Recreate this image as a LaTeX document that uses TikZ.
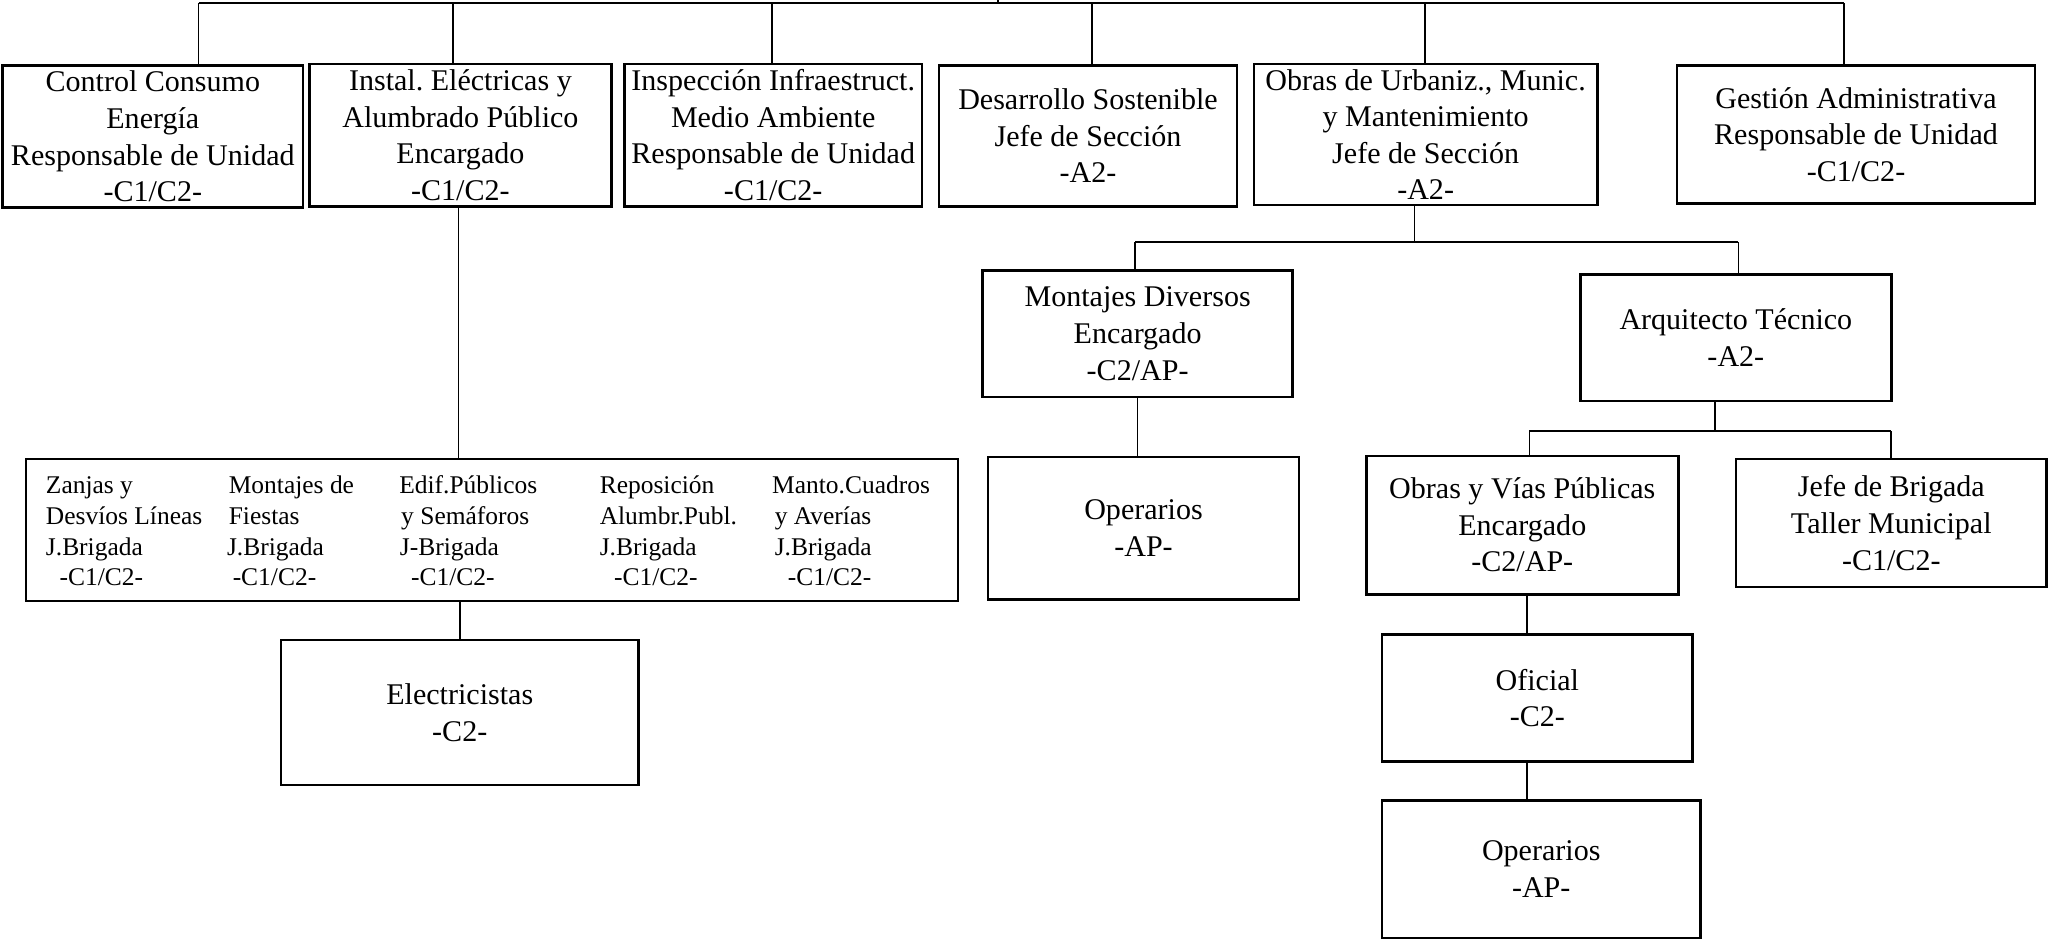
\documentclass[tikz,border=0pt]{standalone}
\usepackage{fontspec}
\setmainfont{Liberation Serif}
\frenchspacing
\begin{document}
\frenchspacing
\begin{tikzpicture}[x=1pt,y=-1pt,
  box/.style={draw, line width=2pt, rectangle, inner sep=0pt, align=center,
    font=\fontsize{23}{28}\selectfont\frenchspacing},
  conn/.style={line width=1.3pt},
  cell/.style={anchor=base west, inner sep=0pt, font=\fontsize{19.5}{23.3}\selectfont\frenchspacing}]
\useasboundingbox (0,0) rectangle (1568,720);

% top level
\node[box, minimum width=230pt, minimum height=109pt] (t1) at (117,104.5)
  {Control Consumo\\Energía\\Responsable de Unidad\\-C1/C2-};
\node[box, minimum width=231pt, minimum height=109pt] (t2) at (352.5,103.5)
  {Instal. Eléctricas y\\Alumbrado Público\\Encargado\\-C1/C2-};
\node[box, minimum width=228pt, minimum height=109pt] (t3) at (592,103.5)
  {Inspección Infraestruct.\\Medio Ambiente\\Responsable de Unidad\\-C1/C2-};
\node[box, minimum width=228pt, minimum height=108pt] (t4) at (833,104)
  {Desarrollo Sostenible\\Jefe de Sección\\-A2-};
\node[box, minimum width=263pt, minimum height=108pt] (t5) at (1091.5,103)
  {Obras de Urbaniz., Munic.\\y Mantenimiento\\Jefe de Sección\\-A2-};
\node[box, minimum width=274pt, minimum height=106pt] (t6) at (1421,103)
  {Gestión Administrativa\\Responsable de Unidad\\-C1/C2-};

% second level
\node[box, minimum width=237.5pt, minimum height=97pt] (md) at (871,255.5)
  {Montajes Diversos\\Encargado\\-C2/AP-};
\node[box, minimum width=238pt, minimum height=97pt] (arq) at (1329,258.5)
  {Arquitecto Técnico\\-A2-};
\node[box, minimum width=238pt, minimum height=109pt] (ops1) at (875.5,404.5)
  {Operarios\\-AP-};
\node[box, minimum width=713.6pt, minimum height=108.5pt] (zan) at (376.8,405.75) {};
\node[box, minimum width=274pt, minimum height=111pt] (elec) at (352,545.5)
  {Electricistas\\-C2-};
\node[box, minimum width=239pt, minimum height=106pt] (ovp) at (1165.5,402)
  {Obras y Vías Públicas\\Encargado\\-C2/AP-};
\node[box, minimum width=238pt, minimum height=98pt] (jb) at (1448,400.5)
  {Jefe de Brigada\\Taller Municipal\\-C1/C2-};
\node[box, minimum width=238pt, minimum height=97pt] (of) at (1177,534.5)
  {Oficial\\-C2-};
\node[box, minimum width=244pt, minimum height=105pt] (ops2) at (1180,665.5)
  {Operarios\\-AP-};

% columns inside the brigade box
\node[cell] (z11) at (35,378) {Zanjas y};
\node[cell] (z12) at (35,401.5) {Desvíos Líneas};
\node[cell] (z13) at (35,425) {J.Brigada};
\node[cell] (z14) at (45.5,448) {-C1/C2-};
\node[cell] (z21) at (175,378) {Montajes de};
\node[cell] (z22) at (175,401.5) {Fiestas};
\node[cell] (z23) at (173.6,425) {J.Brigada};
\node[cell] (z24) at (178,448) {-C1/C2-};
\node[cell] (z31) at (305.5,378) {Edif.Públicos};
\node[cell] (z32) at (307,401.5) {y Semáforos};
\node[cell] (z33) at (306,425) {J-Brigada};
\node[cell] (z34) at (314.6,448) {-C1/C2-};
\node[cell] (z41) at (459,378) {Reposición};
\node[cell] (z42) at (459,401.5) {Alumbr.Publ.};
\node[cell] (z43) at (459,425) {J.Brigada};
\node[cell] (z44) at (470,448) {-C1/C2-};
\node[cell] (z51) at (591,378) {Manto.Cuadros};
\node[cell] (z52) at (593,401.5) {y Averías};
\node[cell] (z53) at (593,425) {J.Brigada};
\node[cell] (z54) at (603,448) {-C1/C2-};

% top bus
\coordinate (up) at (764,0);
\coordinate (bc) at (764,2.5);
\coordinate (b1) at (152,2.5);
\coordinate (b2) at (347,2.5);
\coordinate (b3) at (591,2.5);
\coordinate (b4) at (836,2.5);
\coordinate (b5) at (1091,2.5);
\coordinate (b6) at (1412,2.5);
\draw[conn] (b1) -- (b6);
\draw[conn] (up) -- (bc);
\foreach \b/\n in {b1/t1,b2/t2,b3/t3,b4/t4,b5/t5,b6/t6}
  \draw[conn] (\b) -- (\b |- \n.north);

% Instal. branch
\coordinate (s2) at (351,158);
\draw[conn] (s2) -- (s2 |- zan.north);
\draw[conn] (elec.north |- zan.south) -- (elec.north);

% Obras branch
\coordinate (s5) at (1083,157);
\coordinate (m5) at (1083,185.5);
\coordinate (ml) at (869,185.5);
\coordinate (mr) at (1331,185.5);
\draw[conn] (s5) -- (m5);
\draw[conn] (ml) -- (mr);
\draw[conn] (ml) -- (ml |- md.north);
\draw[conn] (mr) -- (mr |- arq.north);
\draw[conn] (md.south) -- (md.south |- ops1.north);

% Arquitecto branch
\coordinate (s6) at (1313,307);
\coordinate (m6) at (1313,330);
\coordinate (al) at (1171,330);
\coordinate (ar) at (1448,330);
\draw[conn] (s6) -- (m6);
\draw[conn] (al) -- (ar);
\draw[conn] (al) -- (al |- ovp.north);
\draw[conn] (ar) -- (ar |- jb.north);
\coordinate (s7) at (1169,455);
\draw[conn] (s7) -- (s7 |- of.north);
\draw[conn] (s7 |- of.south) -- (s7 |- ops2.north);
\end{tikzpicture}
\end{document}
